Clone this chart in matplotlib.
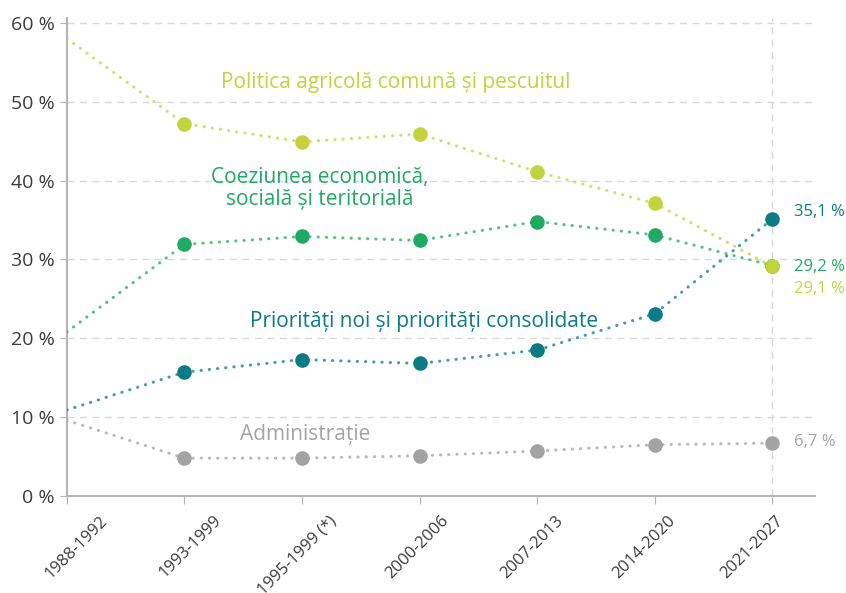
import numpy as np
import matplotlib
matplotlib.use("Agg")
from matplotlib import pyplot as plt
from matplotlib.transforms import ScaledTranslation

periods = ["1988-1992", "1993-1999", "1995-1999 (*)", "2000-2006",
           "2007-2013", "2014-2020", "2021-2027"]

agri = [58.0, 47.2, 44.9, 45.9, 41.1, 37.1, 29.1]
cohesion = [20.8, 31.9, 32.9, 32.4, 34.8, 33.1, 29.2]
priorities = [10.9, 15.7, 17.3, 16.8, 18.5, 23.1, 35.1]
admin = [9.6, 4.8, 4.8, 5.1, 5.7, 6.5, 6.7]

end_labels = ["29,1 %", "29,2 %", "35,1 %", "6,7 %"]
series_names = ["Politica agricolă comună și pescuitul",
                "Coeziunea economică,\nsocială și teritorială",
                "Priorități noi și priorități consolidate",
                "Administrație"]

c_agri = "#c2d33e"
c_coh = "#1faa63"
c_pri = "#0b7b86"
c_adm = "#a3a3a3"

plt.rcParams['font.family'] = ['Open Sans', 'DejaVu Sans']

fig = plt.figure(figsize=(8.46, 5.93), dpi=100)
ax = fig.add_axes([0.079, 0.1636, 0.884, 0.806])

x = np.arange(len(periods))

for vals, col in [(admin, c_adm), (priorities, c_pri), (cohesion, c_coh), (agri, c_agri)]:
    ax.plot(x, vals, color=col, lw=2.2, alpha=0.75,
            linestyle=(0, (0.1, 2.6)), dash_capstyle="round", zorder=3)
    # first period has no marker
    ax.plot(x[1:], vals[1:], "o", color=col, ms=9.5, zorder=4)

ax.set_ylim(0, 60.6)
ax.set_xlim(0, 6.36)
ax.set_yticks(range(0, 61, 10))
ax.set_yticklabels([f"{v} %" for v in range(0, 61, 10)])
ax.set_xticks(x)
ax.set_xticklabels(periods, rotation=45, ha="right", rotation_mode="anchor")

for v in range(10, 61, 10):
    ax.axhline(v, color="#d9d9d9", lw=1, ls=(0, (5, 4)), zorder=1)
ax.axvline(x[-1], color="#d9d9d9", lw=1, ls=(0, (5, 4)), zorder=1)

for s in ["top", "right"]:
    ax.spines[s].set_visible(False)
for s in ["left", "bottom"]:
    ax.spines[s].set_color("#b5b5b5")
    ax.spines[s].set_linewidth(1.5)
ax.tick_params(axis="y", colors="#b5b5b5", labelcolor="#3c3c3c", labelsize=14, length=5)
ax.tick_params(axis="x", colors="#b5b5b5", labelcolor="#3c3c3c", labelsize=12, length=6, pad=6)

# the labels in the original sit a bit to the right of their ticks
# (done after tick_params, which resets the label transforms)
shift_px = [33, 29, 26, 21, 18, 13, 3]
for lbl, dx in zip(ax.get_xticklabels(), shift_px):
    lbl.set_transform(lbl.get_transform() + ScaledTranslation(dx / 100, 0, fig.dpi_scale_trans))

# series labels
ax.text(2.8, 52.4, series_names[0], color=c_agri, fontsize=15, ha="center", va="center")
ax.text(2.15, 39.0, series_names[1], color=c_coh, fontsize=15, ha="center", va="center",
        linespacing=1.1)
ax.text(3.04, 22.1, series_names[2], color=c_pri, fontsize=15, ha="center", va="center")
ax.text(2.03, 7.8, series_names[3], color=c_adm, fontsize=15, ha="center", va="center")

# end value labels
ax.text(6.18, 36.0, end_labels[2], color=c_pri, fontsize=12, va="center")
ax.text(6.18, 29.0, end_labels[1], color=c_coh, fontsize=12, va="center")
ax.text(6.18, 26.2, end_labels[0], color=c_agri, fontsize=12, va="center")
ax.text(6.18, 6.9, end_labels[3], color=c_adm, fontsize=12, va="center")

fig.savefig("out.png", dpi=100)
